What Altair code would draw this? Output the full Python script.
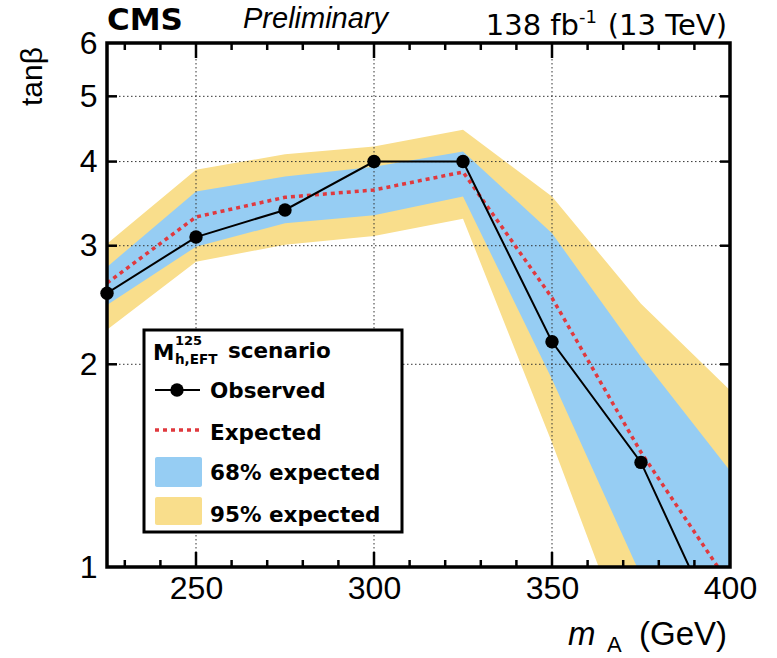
import altair as alt
import pandas as pd

# ---------------- data ----------------
mass = [225, 250, 275, 300, 325, 350, 375, 400]
observed = [2.55, 3.09, 3.39, 4.00, 4.00, 2.16, 1.43, 0.74]
expected = [2.64, 3.31, 3.54, 3.63, 3.86, 2.51, 1.48, 0.94]
band68_lo = [2.45, 2.99, 3.24, 3.33, 3.55, 1.90, 0.97, 0.49]
band68_hi = [2.79, 3.61, 3.80, 3.93, 4.14, 3.13, 2.05, 1.39]
band95_lo = [2.25, 2.84, 3.01, 3.10, 3.29, 1.53, 0.68, 0.40]
band95_hi = [3.02, 3.89, 4.10, 4.21, 4.46, 3.55, 2.46, 1.83]

x_label_values = [250, 300, 350, 400]
y_label_values = [1, 2, 3, 4, 5, 6]
x_grid = [250, 300, 350]
y_grid = [2, 3, 4, 5]
x_major_ticks = [250, 300, 350]
x_minor_ticks = [230, 240, 260, 270, 280, 290, 310, 320, 330, 340, 360, 370, 380, 390]
y_major_ticks = [2, 3, 4, 5]

# ---------------- styling ----------------
W, H = 623, 524
FONT = "Liberation Sans"
DEJ = "DejaVu Sans"
YEL = "#F9DE8C"
BLUE = "#96CDF3"
RED = "#E0393E"

df = pd.DataFrame({
    "m": mass, "obs": observed, "exp": expected,
    "lo68": band68_lo, "hi68": band68_hi,
    "lo95": band95_lo, "hi95": band95_hi,
})
one = pd.DataFrame({"k": [0]})

xs = alt.Scale(domain=[225, 400], nice=False, zero=False)
ys = alt.Scale(type="log", domain=[1, 6], nice=False)

xaxis = alt.Axis(values=x_label_values, title=None, domain=False, ticks=False,
                 tickSize=0, grid=False, labelFontSize=32, labelFont=FONT,
                 labelColor="black", labelPadding=6, labelFlush=False,
                 labelOverlap=False, format="d")
yaxis = alt.Axis(values=y_label_values, title=None, domain=False, ticks=False,
                 tickSize=0, grid=False, labelFontSize=32, labelFont=FONT,
                 labelColor="black", labelPadding=10, labelFlush=False,
                 labelOverlap=False, format="d")


def X(f):
    return alt.X(f, type="quantitative", scale=xs, axis=xaxis)


def Y(f):
    return alt.Y(f, type="quantitative", scale=ys, axis=yaxis)


def txt(text, x, y, size, weight="normal", style="normal", align="left",
        angle=0, color="black", font=FONT):
    kw = dict(text=text, font=font, fontSize=size, fontWeight=weight,
              fontStyle=style, align=align, baseline="alphabetic", color=color)
    if angle:
        kw["angle"] = angle
    return alt.Chart(one).mark_text(**kw).encode(x=alt.value(x), y=alt.value(y))


band95 = alt.Chart(df).mark_area(color=YEL, opacity=1, clip=True).encode(
    x=X("m"), y=Y("lo95"), y2=alt.Y2("hi95"))
band68 = alt.Chart(df).mark_area(color=BLUE, opacity=1, clip=True).encode(
    x=X("m"), y=Y("lo68"), y2=alt.Y2("hi68"))

grid_x = alt.Chart(pd.DataFrame({"m": x_grid})).mark_rule(
    color="#333333", strokeWidth=1, strokeDash=[1.5, 2.5]).encode(
    x=X("m"), y=alt.value(0), y2=alt.value(H))
grid_y = alt.Chart(pd.DataFrame({"t": y_grid})).mark_rule(
    color="#333333", strokeWidth=1, strokeDash=[1.5, 2.5]).encode(
    y=Y("t"), x=alt.value(0), x2=alt.value(W))

exp_line = alt.Chart(df).mark_line(color=RED, strokeWidth=3.5, strokeDash=[4, 4],
                                   clip=True).encode(x=X("m"), y=Y("exp"))
obs_line = alt.Chart(df).mark_line(color="black", strokeWidth=2, clip=True).encode(
    x=X("m"), y=Y("obs"))
obs_pts = alt.Chart(df).transform_filter("datum.obs >= 1").mark_circle(
    color="black", size=180, opacity=1).encode(x=X("m"), y=Y("obs"))

frame = alt.Chart(one).mark_rect(fillOpacity=0, stroke="black", strokeWidth=3.5).encode(
    x=alt.value(0), x2=alt.value(W), y=alt.value(0), y2=alt.value(H))

tick_style = dict(color="black", strokeWidth=2.5)
xt_major = pd.DataFrame({"m": x_major_ticks})
xt_minor = pd.DataFrame({"m": x_minor_ticks})
yt_major = pd.DataFrame({"t": y_major_ticks})
ticks = [
    alt.Chart(xt_major).mark_rule(**tick_style).encode(x=X("m"), y=alt.value(H), y2=alt.value(H - 15)),
    alt.Chart(xt_major).mark_rule(**tick_style).encode(x=X("m"), y=alt.value(0), y2=alt.value(15)),
    alt.Chart(xt_minor).mark_rule(**tick_style).encode(x=X("m"), y=alt.value(H), y2=alt.value(H - 7)),
    alt.Chart(xt_minor).mark_rule(**tick_style).encode(x=X("m"), y=alt.value(0), y2=alt.value(7)),
    alt.Chart(yt_major).mark_rule(**tick_style).encode(y=Y("t"), x=alt.value(0), x2=alt.value(10)),
    alt.Chart(yt_major).mark_rule(**tick_style).encode(y=Y("t"), x=alt.value(W), x2=alt.value(W - 10)),
]

# ---------------- legend ----------------
leg_box = alt.Chart(one).mark_rect(fill="white", stroke="black", strokeWidth=3).encode(
    x=alt.value(37), x2=alt.value(295), y=alt.value(287), y2=alt.value(489))
leg_obs_line = alt.Chart(one).mark_rule(color="black", strokeWidth=2).encode(
    x=alt.value(48), x2=alt.value(93), y=alt.value(347))
leg_obs_pt = alt.Chart(one).mark_circle(color="black", size=180, opacity=1).encode(
    x=alt.value(70), y=alt.value(347))
leg_exp = alt.Chart(one).mark_rule(color=RED, strokeWidth=3.5, strokeDash=[4, 4]).encode(
    x=alt.value(48), x2=alt.value(93), y=alt.value(387))
leg_68 = alt.Chart(one).mark_rect(color=BLUE, cornerRadius=2).encode(
    x=alt.value(48), x2=alt.value(95), y=alt.value(414), y2=alt.value(444))
leg_95 = alt.Chart(one).mark_rect(color=YEL, cornerRadius=2).encode(
    x=alt.value(48), x2=alt.value(95), y=alt.value(454), y2=alt.value(482))

LS = 21.5
legend = [
    leg_box, leg_obs_line, leg_obs_pt, leg_exp, leg_68, leg_95,
    txt("M", 46, 317, LS, weight="bold", font=DEJ),
    txt("125", 68, 302, 13, weight="bold", font=DEJ),
    txt("h,EFT", 68, 321, 13.5, weight="bold", font=DEJ),
    txt("scenario", 121, 315, LS, weight="bold", font=DEJ),
    txt("Observed", 103, 355, LS, weight="bold", font=DEJ),
    txt("Expected", 103, 397, LS, weight="bold", font=DEJ),
    txt("68% expected", 103, 437, LS, weight="bold", font=DEJ),
    txt("95% expected", 103, 479, LS, weight="bold", font=DEJ),
]

# ---------------- titles ----------------
titles = [
    txt("CMS", 0, -13.5, 31, weight="bold", font=DEJ),
    txt("Preliminary", 136, -15, 29, style="italic"),
    txt("138 fb", 472, -8, 29, align="right", font=DEJ),
    txt("-1", 490, -20, 18, align="right", font=DEJ),
    txt("(13 TeV)", 620, -8, 29, align="right", font=DEJ),
    txt("m", 461, 602, 33, style="italic"),
    txt("A", 500, 609, 22),
    txt("(GeV)", 620, 602, 33, align="right"),
    txt("tanβ", -65, 4, 30, align="right", angle=270),
]

chart = alt.layer(
    band95, band68, grid_x, grid_y, exp_line, obs_line, obs_pts, frame,
    *ticks, *legend, *titles,
).properties(
    width=W, height=H,
    padding={"left": 107, "top": 43, "right": 47, "bottom": 91},
    autosize=alt.AutoSizeParams(type="none"),
    background="white",
).configure_view(stroke=None)

chart.save("out.html", embed_options={"renderer": "svg", "actions": False})
